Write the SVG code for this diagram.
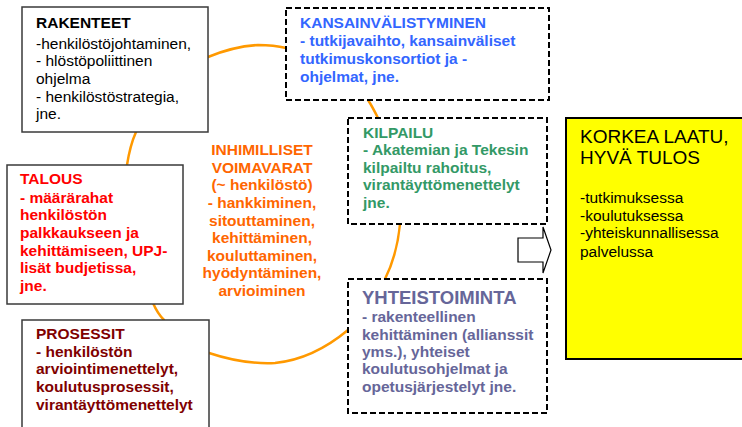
<svg xmlns="http://www.w3.org/2000/svg" width="742" height="427" viewBox="0 0 742 427">
<style>
text{font-family:"Liberation Sans",Arial,sans-serif;font-size:15.5px}
.b{font-weight:bold}
.solid{fill:#fff;stroke:#3a3a3a;stroke-width:1.5}
.dash{fill:#fff;stroke:#000;stroke-width:2;stroke-dasharray:6,3}
.conn{fill:none;stroke:#ff9900;stroke-width:2.5;stroke-linecap:round}
</style>
<rect width="742" height="427" fill="#fff"/>
<g id="connectors">
<path class="conn" d="M127,165 C129,152 132,141 136,132"/>
<path class="conn" d="M208,57 C225,50 240,46 258,45 C270,45 278,46 286,48"/>
<path class="conn" d="M368,100 C372,106 375,112 378,118"/>
<path class="conn" d="M400,224 C398,245 392,265 385,279"/>
<path class="conn" d="M348,330 C330,345 305,360 275,363 C255,364 230,360 209,353"/>
<path class="conn" d="M153,303 C156,310 160,316 164,320"/>
<polygon points="518,238 543,238 543,227 551,250 543,273 543,262 518,262" fill="#fff" stroke="#000" stroke-width="1.2"/>
</g>
<g id="rakenteet">
<rect class="solid" x="22" y="7" width="186" height="125"/>
<text x="36" y="28" class="b">RAKENTEET</text>
<text x="36" y="49">-henkilöstöjohtaminen,</text>
<text x="36" y="66">- hlöstöpoliittinen</text>
<text x="36" y="84">ohjelma</text>
<text x="36" y="102">- henkilöstöstrategia,</text>
<text x="36" y="119">jne.</text>
</g>
<g id="kansainvalistyminen">
<rect class="dash" x="286" y="8" width="263" height="92"/>
<g class="b" fill="#3366ff" style="font-size:16px">
<text x="300" y="28">KANSAINVÄLISTYMINEN</text>
<text x="300" y="46">- tutkijavaihto, kansainväliset</text>
<text x="300" y="64">tutkimuskonsortiot ja -</text>
<text x="300" y="82">ohjelmat, jne.</text>
</g>
</g>
<g id="talous">
<rect class="solid" x="7" y="165" width="176" height="139"/>
<g class="b" fill="#ff0000">
<text x="20" y="184">TALOUS</text>
<text x="20" y="203">- määrärahat</text>
<text x="20" y="220">henkilöstön</text>
<text x="20" y="238">palkkaukseen ja</text>
<text x="20" y="256">kehittämiseen, UPJ-</text>
<text x="20" y="273">lisät budjetissa,</text>
<text x="20" y="291">jne.</text>
</g>
</g>
<g id="inhimilliset">
<g class="b" fill="#ff6600" text-anchor="middle">
<text x="262" y="155">INHIMILLISET</text>
<text x="262" y="173">VOIMAVARAT</text>
<text x="262" y="190">(~ henkilöstö)</text>
<text x="262" y="208">- hankkiminen,</text>
<text x="262" y="226">sitouttaminen,</text>
<text x="262" y="243">kehittäminen,</text>
<text x="262" y="261">kouluttaminen,</text>
<text x="262" y="278">hyödyntäminen,</text>
<text x="262" y="296">arvioiminen</text>
</g>
</g>
<g id="kilpailu">
<rect class="dash" x="348" y="118" width="199" height="106"/>
<g class="b" fill="#339966">
<text x="363" y="138">KILPAILU</text>
<text x="363" y="155">- Akatemian ja Tekesin</text>
<text x="363" y="173">kilpailtu rahoitus,</text>
<text x="363" y="190">virantäyttömenettelyt</text>
<text x="363" y="208">jne.</text>
</g>
</g>
<g id="yhteistoiminta">
<rect class="dash" x="348" y="279" width="199" height="134"/>
<g class="b" fill="#666699" style="font-size:15px">
<text x="362" y="304" style="font-size:18.5px">YHTEISTOIMINTA</text>
<text x="362" y="322">- rakenteellinen</text>
<text x="362" y="340">kehittäminen (allianssit</text>
<text x="362" y="357">yms.), yhteiset</text>
<text x="362" y="374">koulutusohjelmat ja</text>
<text x="362" y="392">opetusjärjestelyt jne.</text>
</g>
</g>
<g id="prosessit">
<rect class="solid" x="22" y="320" width="187" height="115"/>
<g class="b" fill="#800000">
<text x="36" y="339">PROSESSIT</text>
<text x="36" y="357">- henkilöstön</text>
<text x="36" y="374">arviointimenettelyt,</text>
<text x="36" y="392">koulutusprosessit,</text>
<text x="36" y="410">virantäyttömenettelyt</text>
</g>
</g>
<g id="korkea-laatu">
<rect x="566" y="118" width="182" height="241" fill="#ffff00" stroke="#000" stroke-width="2"/>
<text x="580" y="143" style="font-size:19px">KORKEA LAATU,</text>
<text x="580" y="164" style="font-size:19px">HYVÄ TULOS</text>
<g style="font-size:14.5px">
<text x="580" y="203">-tutkimuksessa</text>
<text x="580" y="221">-koulutuksessa</text>
<text x="580" y="238">-yhteiskunnallisessa</text>
<text x="580" y="257">palvelussa</text>
</g>
</g>
</svg>
